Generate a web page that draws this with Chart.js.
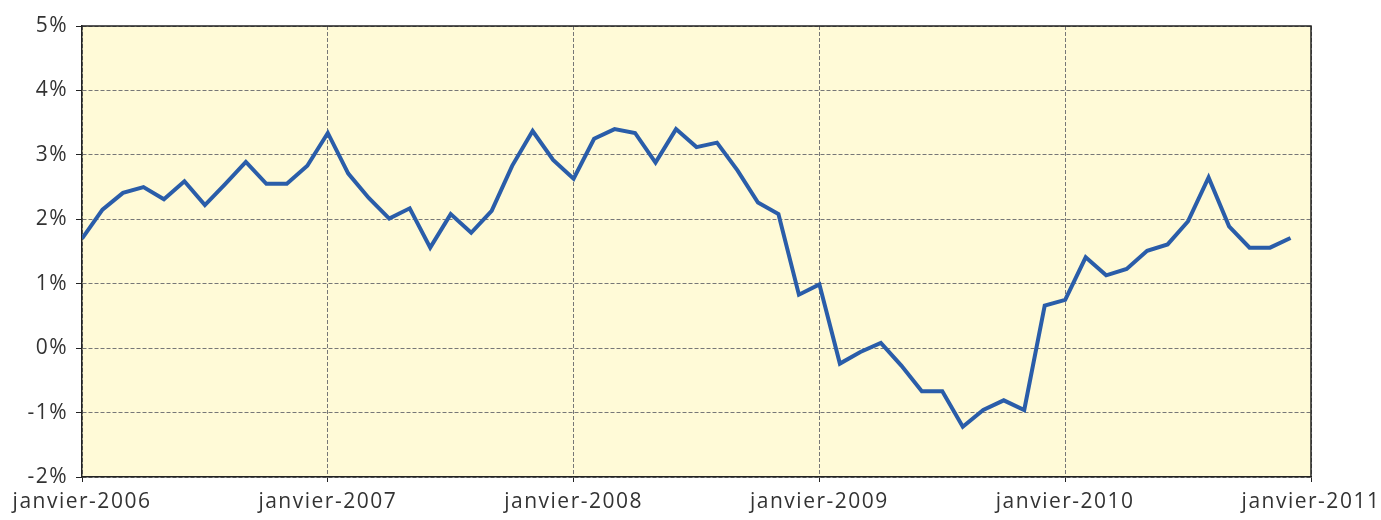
<!DOCTYPE html>
<html lang="fr">
<head>
<meta charset="utf-8">
<title>Inflation 2006-2010</title>
<script src="https://cdn.jsdelivr.net/npm/chart.js@4.4.1/dist/chart.umd.min.js"></script>
<style>
    html, body { margin: 0; padding: 0; background: #ffffff; }
    #wrap { width: 1381px; height: 520px; position: relative; }
</style>
</head>
<body>
<div id="wrap"><canvas id="inflation-chart"></canvas></div>
<script>
// Monthly values, janvier-2006 to décembre-2010 (in %)
const rates2006 = [1.70, 2.15, 2.41, 2.50, 2.31, 2.59, 2.22, 2.55, 2.89, 2.55, 2.55, 2.83];
const rates2007 = [3.34, 2.71, 2.33, 2.01, 2.17, 1.56, 2.08, 1.79, 2.13, 2.83, 3.37, 2.92];
const rates2008 = [2.63, 3.25, 3.40, 3.34, 2.88, 3.40, 3.12, 3.19, 2.76, 2.26, 2.08, 0.83];
const rates2009 = [0.99, -0.24, -0.06, 0.08, -0.27, -0.67, -0.67, -1.22, -0.96, -0.81, -0.96, 0.66];
const rates2010 = [0.75, 1.41, 1.13, 1.23, 1.51, 1.61, 1.97, 2.65, 1.89, 1.56, 1.56, 1.71];
const rates = [].concat(rates2006, rates2007, rates2008, rates2009, rates2010);

// Tick labels
const yearLabels = ['janvier-2006', 'janvier-2007', 'janvier-2008', 'janvier-2009', 'janvier-2010', 'janvier-2011'];
const yTicks = [-2, -1, 0, 1, 2, 3, 4, 5];

document.addEventListener('DOMContentLoaded', function() {
    initInflationChart();
});

/**
 * Plot background, frame and wider letter spacing for the labels
 */
const plotFrame = {
    id: 'plotFrame',
    beforeLayout(chart) {
        chart.ctx.letterSpacing = '1.5px';
    },
    beforeDraw(chart) {
        const a = chart.chartArea;
        const ctx = chart.ctx;
        ctx.letterSpacing = '1.5px';
        ctx.save();
        ctx.fillStyle = '#FFFAD7';
        ctx.fillRect(a.left, a.top, a.right - a.left, a.bottom - a.top);
        ctx.restore();
    },
    afterDatasetsDraw(chart) {
        const a = chart.chartArea;
        const ctx = chart.ctx;
        ctx.save();
        ctx.strokeStyle = '#222222';
        ctx.lineWidth = 1.5;
        ctx.beginPath();
        ctx.moveTo(a.left, a.top);
        ctx.lineTo(a.right, a.top);
        ctx.lineTo(a.right, a.bottom);
        ctx.stroke();
        ctx.restore();
    }
};

function initInflationChart() {
    const canvas = document.getElementById('inflation-chart');
    if (!canvas) return;

    Chart.defaults.font.family = '"Open Sans", sans-serif';
    Chart.defaults.font.size = 21;
    Chart.defaults.color = '#333333';

    new Chart(canvas, {
        type: 'line',
        data: {
            datasets: [{
                data: rates.map((v, i) => ({ x: i, y: v })),
                borderColor: '#2A5DA9',
                borderWidth: 4,
                borderJoinStyle: 'miter',
                pointRadius: 0,
                tension: 0,
                fill: false
            }]
        },
        options: {
            responsive: true,
            maintainAspectRatio: false,
            animation: false,
            layout: { padding: { top: 26, right: 70, bottom: 0, left: 0 } },
            plugins: {
                legend: { display: false },
                tooltip: { enabled: false }
            },
            scales: {
                x: {
                    type: 'linear',
                    min: 0,
                    max: 60,
                    grid: {
                        color: '#777777',
                        lineWidth: 1,
                        tickColor: '#222222',
                        tickLength: 5,
                        tickBorderDash: []
                    },
                    border: { display: true, color: '#222222', width: 1.5, dash: [4, 2] },
                    ticks: {
                        stepSize: 12,
                        autoSkip: false,
                        maxRotation: 0,
                        padding: 7,
                        callback: (v) => yearLabels[v / 12]
                    },
                    afterFit: (s) => {
                        s.height = 43;
                        s.paddingLeft = 0;
                        s.paddingRight = 0;
                    }
                },
                y: {
                    min: yTicks[0],
                    max: yTicks[yTicks.length - 1],
                    grid: {
                        color: '#777777',
                        lineWidth: 1,
                        tickColor: '#222222',
                        tickLength: 6,
                        tickBorderDash: []
                    },
                    border: { display: true, color: '#222222', width: 1.5, dash: [4, 2] },
                    ticks: {
                        stepSize: 1,
                        padding: 8,
                        callback: (v) => v + '%'
                    },
                    afterFit: (s) => {
                        s.width = 82;
                        s.paddingTop = 0;
                        s.paddingBottom = 0;
                    }
                }
            }
        },
        plugins: [plotFrame]
    });
}
</script>
</body>
</html>
